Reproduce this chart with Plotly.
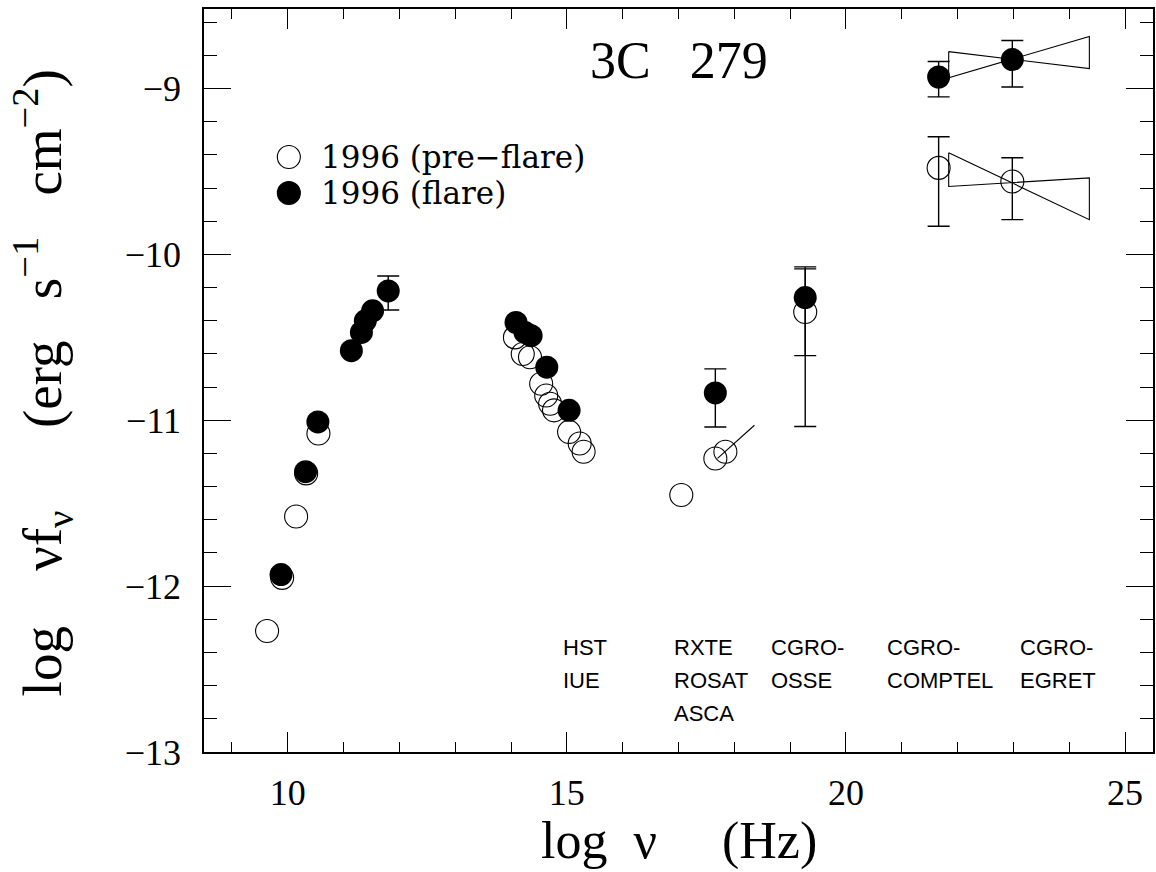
import plotly.graph_objects as go

# ---------------- data ----------------
pre_x = [9.63, 9.90, 10.15, 10.33, 10.55,
         14.07, 14.21, 14.34, 14.54, 14.63, 14.70, 14.77, 15.04, 15.23, 15.30,
         17.05, 17.66, 17.84]
pre_y = [-12.27, -11.95, -11.58, -11.32, -11.08,
         -10.50, -10.60, -10.62, -10.78, -10.85, -10.90, -10.94, -11.07, -11.14, -11.19,
         -11.45, -11.23, -11.19]

pre_err_x = [19.27, 21.66, 22.98]
pre_err_y = [-10.347, -9.478, -9.56]
pre_err_plus = [0.26, 0.188, 0.143]
pre_err_minus = [0.69, 0.352, 0.23]

flare_x = [9.88, 10.32, 10.54, 11.14, 11.32, 11.39, 11.52,
           14.09, 14.25, 14.36, 14.64, 15.04]
flare_y = [-11.93, -11.31, -11.01, -10.58, -10.47, -10.40, -10.34,
           -10.41, -10.47, -10.49, -10.68, -10.94]

flare_err_x = [11.80, 17.66, 19.27, 21.66, 22.98]
flare_err_y = [-10.22, -10.835, -10.26, -8.93, -8.825]
flare_err_plus = [0.09, 0.145, 0.185, 0.093, 0.115]
flare_err_minus = [0.115, 0.205, 0.35, 0.12, 0.165]

# X-ray power-law slope (pre-flare)
xray_slope_x = [17.70, 18.36]
xray_slope_y = [-11.23, -11.03]

# EGRET bow-ties (corners: left-top, right-bottom, right-top, left-bottom, back)
bow_flare_x = [21.84, 24.36, 24.36, 21.84, 21.84]
bow_flare_y = [-8.777, -8.879, -8.686, -8.934, -8.777]
bow_pre_x = [21.84, 24.36, 24.36, 21.84, 21.84]
bow_pre_y = [-9.387, -9.79, -9.538, -9.59, -9.387]

# instrument labels: (x left, lines)
inst_x = [14.89, 16.89, 18.62, 20.70, 23.09]
inst_lines = [["HST", "IUE"],
              ["RXTE", "ROSAT", "ASCA"],
              ["CGRO-", "OSSE"],
              ["CGRO-", "COMPTEL"],
              ["CGRO-", "EGRET"]]
inst_row_y = [-12.42, -12.62, -12.815]

legend_labels = ["1996 (pre\u2212flare)", "1996 (flare)"]
title_text = "3C\u00a0\u00a0\u00a0279"

# ---------------- figure ----------------
SERIF = "Liberation Serif"
MS = 23
NB = "\u00a0"
fig = go.Figure()

err_style = dict(type="data", symmetric=False, color="black", thickness=1.4, width=11)

fig.add_trace(go.Scatter(
    x=pre_x, y=pre_y, mode="markers",
    marker=dict(symbol="circle-open", size=MS, color="black", line=dict(width=1.1)),
    showlegend=False))
fig.add_trace(go.Scatter(
    x=pre_err_x, y=pre_err_y, mode="markers",
    marker=dict(symbol="circle-open", size=MS, color="black", line=dict(width=1.1)),
    error_y=dict(array=pre_err_plus, arrayminus=pre_err_minus, **err_style),
    showlegend=False))
fig.add_trace(go.Scatter(
    x=xray_slope_x, y=xray_slope_y, mode="lines",
    line=dict(color="black", width=1.1), showlegend=False))
fig.add_trace(go.Scatter(
    x=bow_pre_x, y=bow_pre_y, mode="lines",
    line=dict(color="black", width=1.1), showlegend=False))
fig.add_trace(go.Scatter(
    x=bow_flare_x, y=bow_flare_y, mode="lines",
    line=dict(color="black", width=1.1), showlegend=False))
fig.add_trace(go.Scatter(
    x=flare_x, y=flare_y, mode="markers",
    marker=dict(symbol="circle", size=MS, color="black", line=dict(width=0)),
    showlegend=False))
fig.add_trace(go.Scatter(
    x=flare_err_x, y=flare_err_y, mode="markers",
    marker=dict(symbol="circle", size=MS, color="black", line=dict(width=0)),
    error_y=dict(array=flare_err_plus, arrayminus=flare_err_minus, **err_style),
    showlegend=False))

annotations = []
# instrument labels
for xi, lines in zip(inst_x, inst_lines):
    for j, t in enumerate(lines):
        annotations.append(dict(
            x=xi, y=inst_row_y[j], xref="x", yref="y", text=t, showarrow=False,
            xanchor="left", yanchor="middle", xshift=0, yshift=8,
            font=dict(family="Liberation Sans", size=22, color="black")))

# title
annotations.append(dict(x=0.5005, y=0.931, xref="paper", yref="paper", text=title_text,
                        showarrow=False, xanchor="center", yanchor="middle",
                        font=dict(family=SERIF, size=52, color="black")))
# legend text
leg_y = [0.8008, 0.7524]
for t, ly in zip(legend_labels, leg_y):
    annotations.append(dict(x=0.121, y=ly, xref="paper", yref="paper", text=t,
                            showarrow=False, xanchor="left", yanchor="middle",
                            font=dict(family="DejaVu Serif", size=31, color="black")))
# axis titles
annotations.append(dict(x=0.5005, y=-0.12, xref="paper", yref="paper",
                        text="log" + NB * 2 + "\u03bd" + NB * 5 + "(Hz)",
                        showarrow=False, xanchor="center", yanchor="middle",
                        font=dict(family=SERIF, size=52, color="black")))
annotations.append(dict(x=-0.17, y=0.497, xref="paper", yref="paper",
                        text="log" + NB * 4 + "\u03bdf<sub>\u03bd</sub>" + NB * 6 + "(erg" + NB * 3
                             + "s<sup>\u22121</sup>" + NB * 3 + "cm<sup>\u22122</sup>)",
                        showarrow=False, xanchor="center", yanchor="middle", textangle=-90,
                        font=dict(family=SERIF, size=55, color="black")))

# legend keys (layout decorations)
shapes = []
for ly, filled in zip(leg_y, [False, True]):
    shapes.append(dict(type="circle", xref="paper", yref="paper",
                       xsizemode="pixel", ysizemode="pixel",
                       xanchor=0.0894, yanchor=ly, x0=-11.5, x1=11.5, y0=-11.5, y1=11.5,
                       line=dict(color="black", width=1.1),
                       fillcolor="black" if filled else "rgba(0,0,0,0)"))

axis_common = dict(showgrid=False, zeroline=False, showline=True, linecolor="black",
                   linewidth=1.5, mirror="allticks", ticks="inside", tickcolor="black",
                   tickfont=dict(family=SERIF, size=36, color="black"))

fig.update_layout(
    width=1156, height=872,
    margin=dict(l=204, r=1, t=9, b=120),
    paper_bgcolor="white", plot_bgcolor="white",
    showlegend=False,
    annotations=annotations, shapes=shapes,
    xaxis=dict(range=[8.5, 25.5], tick0=0, dtick=5, ticklen=20, tickwidth=1.3,
               ticklabelstandoff=8,
               minor=dict(dtick=1, tick0=0, ticklen=10, ticks="inside", tickcolor="black", tickwidth=1),
               **axis_common),
    yaxis=dict(range=[-13, -8.52], tick0=0, dtick=1, ticklen=27, tickwidth=1.3,
               ticklabelstandoff=14,
               minor=dict(dtick=0.2, ticklen=13, ticks="inside", tickcolor="black", tickwidth=1),
               **axis_common),
)

fig.write_html("out.html", config={"displayModeBar": False},
               post_script="document.body.style.margin='0';document.body.style.overflow='hidden';")
